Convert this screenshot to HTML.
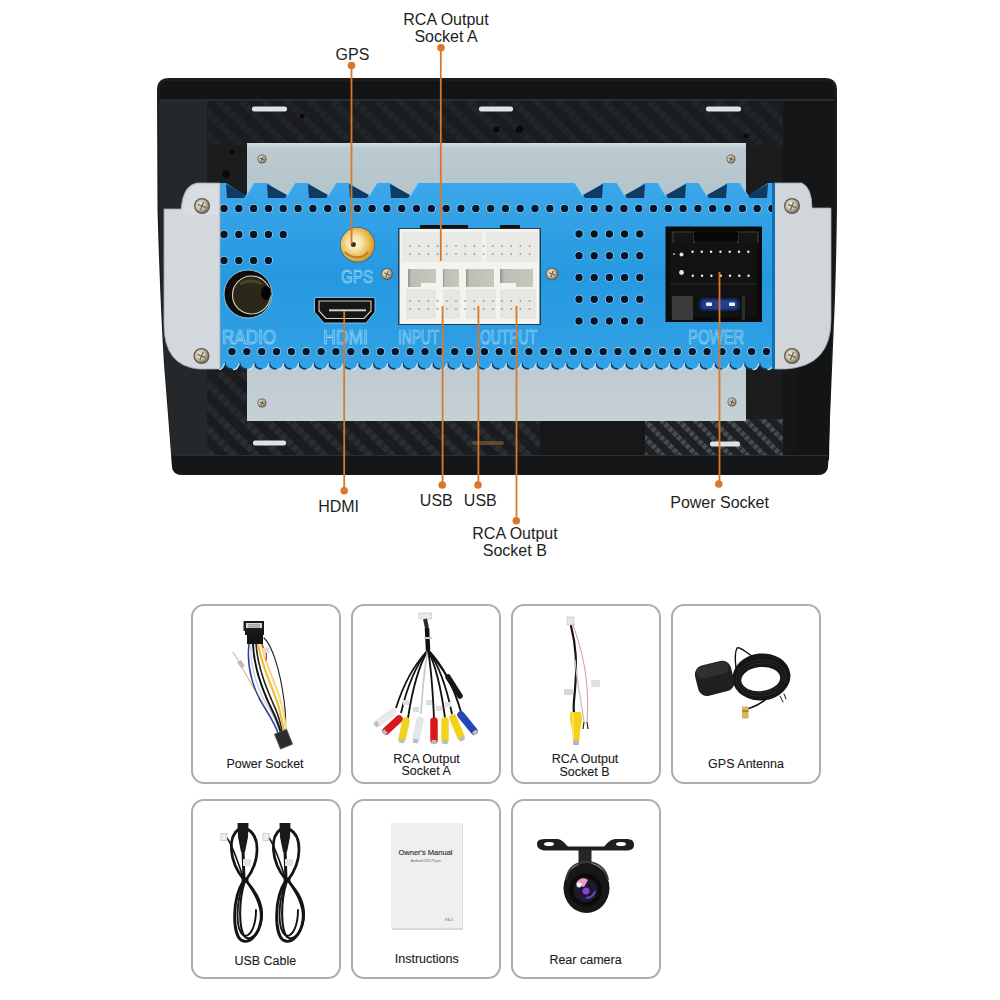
<!DOCTYPE html>
<html><head><meta charset="utf-8"><style>
html,body{margin:0;padding:0;background:#fff;width:1000px;height:1000px;overflow:hidden;position:relative}
svg{position:absolute;left:0;top:0}
.card{position:absolute;box-sizing:border-box;border:2px solid #adadad;border-radius:13px;background:#fff}
</style></head><body>
<svg width="1000" height="1000" viewBox="0 0 1000 1000" style="z-index:1">
<defs>
<pattern id="carbon" width="16" height="16" patternUnits="userSpaceOnUse" patternTransform="rotate(-45)">
<rect width="16" height="16" fill="#1a1d1f"/><rect width="7" height="16" fill="#303437"/><rect x="0" y="0" width="7" height="3" fill="#25282b"/><rect x="0" y="8" width="7" height="3" fill="#25282b"/>
</pattern>
<pattern id="carbon2" width="12" height="12" patternUnits="userSpaceOnUse" patternTransform="rotate(-45)">
<rect width="12" height="12" fill="#1e2123"/><rect width="5" height="12" fill="#4e5255"/><rect x="0" y="0" width="5" height="2" fill="#2e3134"/><rect x="0" y="6" width="5" height="2" fill="#2e3134"/>
</pattern>
<linearGradient id="plate" x1="0" y1="0" x2="0" y2="1"><stop offset="0" stop-color="#d3dee2"/><stop offset="0.08" stop-color="#bccbd1"/><stop offset="1" stop-color="#b3c3ca"/></linearGradient>
<linearGradient id="plate2" x1="0" y1="0" x2="0" y2="1"><stop offset="0" stop-color="#bac8ce"/><stop offset="1" stop-color="#c6d1d6"/></linearGradient>
<linearGradient id="brk" x1="0" y1="0" x2="1" y2="0"><stop offset="0" stop-color="#b9c2c6"/><stop offset="0.15" stop-color="#d9dfe2"/><stop offset="1" stop-color="#cdd4d8"/></linearGradient>
<linearGradient id="blue" x1="0" y1="0" x2="0" y2="1"><stop offset="0" stop-color="#3ca6ea"/><stop offset="0.5" stop-color="#2599e0"/><stop offset="1" stop-color="#33a1e6"/></linearGradient>
<radialGradient id="gold" cx="0.42" cy="0.45" r="0.62"><stop offset="0" stop-color="#fff8e6"/><stop offset="0.35" stop-color="#f6e2a8"/><stop offset="0.7" stop-color="#e8b848"/><stop offset="1" stop-color="#c88a22"/></radialGradient>
<radialGradient id="screw" cx="0.4" cy="0.4" r="0.6"><stop offset="0" stop-color="#f4f0e4"/><stop offset="0.6" stop-color="#c9bfa8"/><stop offset="1" stop-color="#7d7668"/></radialGradient>
</defs>
<path d="M157,90 Q157,78 169,78 L825,78 Q837,78 837,90 L837,210 Q836,280 834,322 L828,465 Q827.5,475 818,475 L182,475 Q172.5,475 172,466 L164,364 Q160,300 157.5,210 Z" fill="#1a1c1e"/>
<rect x="208" y="100" width="575" height="45" fill="url(#carbon)" opacity="0.4"/>
<rect x="190" y="419" width="350" height="38" fill="url(#carbon)" opacity="0.75"/>
<rect x="190" y="372" width="57" height="47" fill="url(#carbon)" opacity="0.6"/>
<rect x="645" y="419" width="152" height="38" fill="url(#carbon2)" opacity="0.9"/>
<path d="M160,99 L160,90 Q160,81 170,81 L824,81 Q834,81 834,90 L834,99 Z" fill="#121416"/>
<rect x="160" y="99" width="674" height="2" fill="#2a2d30"/>
<path d="M159,101 L207,101 L207,456 L171.5,456 L165,364 Q161,300 159.5,210 Z" fill="#25282a"/>
<path d="M783,101 L835,101 L835,210 Q834,280 832,322 L827.5,456 L783,456 Z" fill="#141618"/>
<rect x="540" y="419" width="105" height="48" fill="#151719"/>
<path d="M797,300 L832,300 L829,460 L797,460 Z" fill="#121416"/>
<rect x="472" y="441" width="32" height="4" rx="2" fill="#7a5a32" opacity="0.7"/>
<path d="M171.5,456 L828.5,456 L828,466 Q827.5,474.5 818,474.5 L182,474.5 Q172.5,474.5 172,466 Z" fill="#141618"/>
<rect x="175" y="455" width="652" height="1.2" fill="#2c2f32"/>
<rect x="252" y="106.5" width="35" height="5" rx="2" fill="#dfe3e5"/>
<rect x="479" y="106.5" width="34" height="5" rx="2" fill="#dfe3e5"/>
<rect x="706" y="106.5" width="35" height="5" rx="2" fill="#dfe3e5"/>
<rect x="253" y="440.5" width="33" height="5" rx="2" fill="#dfe3e5"/>
<rect x="710" y="441.5" width="30" height="5" rx="2" fill="#dfe3e5"/>
<circle cx="302" cy="116" r="2.5" fill="#0a0a0a"/>
<circle cx="232" cy="152" r="2.5" fill="#0a0a0a"/>
<circle cx="496.5" cy="129.5" r="3" fill="#0a0a0a"/>
<circle cx="519.6" cy="129.5" r="3.8" fill="#0a0a0a"/>
<circle cx="746" cy="136" r="2.5" fill="#0a0a0a"/>
<circle cx="226" cy="174" r="4" fill="#0a0a0a"/>
<rect x="247" y="143" width="499" height="60" fill="url(#plate)"/>
<rect x="247" y="350" width="499" height="71" fill="url(#plate2)"/>
<circle cx="262" cy="159" r="4.5" fill="#5e5a52"/>
<circle cx="262" cy="159" r="3.8" fill="url(#screw)"/>
<path d="M259.8,158.1 L264.2,159.9 M261.1,161.2 L262.9,156.8" stroke="#6e6350" stroke-width="1.2"/>
<circle cx="731" cy="159" r="4.5" fill="#5e5a52"/>
<circle cx="731" cy="159" r="3.8" fill="url(#screw)"/>
<path d="M728.8,158.1 L733.2,159.9 M730.1,161.2 L731.9,156.8" stroke="#6e6350" stroke-width="1.2"/>
<circle cx="262" cy="403" r="4.5" fill="#5e5a52"/>
<circle cx="262" cy="403" r="3.8" fill="url(#screw)"/>
<path d="M259.8,402.1 L264.2,403.9 M261.1,405.2 L262.9,400.8" stroke="#6e6350" stroke-width="1.2"/>
<circle cx="732" cy="402" r="4.5" fill="#5e5a52"/>
<circle cx="732" cy="402" r="3.8" fill="url(#screw)"/>
<path d="M729.8,401.1 L734.2,402.9 M731.1,404.2 L732.9,399.8" stroke="#6e6350" stroke-width="1.2"/>
<clipPath id="pclip"><rect x="219" y="170" width="555" height="210"/></clipPath>
<g clip-path="url(#pclip)"><path d="M219,183 L226,183 L246,196 L254,183 L267,183 L287,196 L295,183 L308,183 L328,196 L336,183 L349,183 L369,196 L377,183 L390,183 L410,196 L418,183 L575,183 L583,196 L603,183 L617,183 L625,196 L645,183 L658,183 L666,196 L686,183 L699,183 L707,196 L727,183 L740,183 L748,196 L768,183 L774,183 L774,362 L788.8,362.5 C787.8,367 786.3,369 781.3,369 C776.3,369 774.9,367 773.9,362.5 L773.9,362.5 C772.9,367 771.5,369 766.5,369 C761.5,369 760.1,367 759.1,362.5 L759.1,362.5 C758.1,367 756.6,369 751.6,369 C746.6,369 745.2,367 744.2,362.5 L744.2,362.5 C743.2,367 741.8,369 736.8,369 C731.8,369 730.4,367 729.4,362.5 L729.4,362.5 C728.4,367 727,369 722,369 C717,369 715.5,367 714.5,362.5 L714.5,362.5 C713.5,367 712.1,369 707.1,369 C702.1,369 700.7,367 699.7,362.5 L699.7,362.5 C698.7,367 697.3,369 692.3,369 C687.3,369 685.8,367 684.8,362.5 L684.8,362.5 C683.8,367 682.4,369 677.4,369 C672.4,369 671,367 670,362.5 L670,362.5 C669,367 667.6,369 662.6,369 C657.6,369 656.1,367 655.1,362.5 L655.1,362.5 C654.1,367 652.7,369 647.7,369 C642.7,369 641.3,367 640.3,362.5 L640.3,362.5 C639.3,367 637.9,369 632.9,369 C627.9,369 626.4,367 625.4,362.5 L625.4,362.5 C624.4,367 623,369 618,369 C613,369 611.6,367 610.6,362.5 L610.6,362.5 C609.6,367 608.2,369 603.2,369 C598.2,369 596.8,367 595.8,362.5 L595.8,362.5 C594.8,367 593.3,369 588.3,369 C583.3,369 581.9,367 580.9,362.5 L580.9,362.5 C579.9,367 578.5,369 573.5,369 C568.5,369 567.1,367 566.1,362.5 L566.1,362.5 C565.1,367 563.6,369 558.6,369 C553.6,369 552.2,367 551.2,362.5 L551.2,362.5 C550.2,367 548.8,369 543.8,369 C538.8,369 537.4,367 536.4,362.5 L536.4,362.5 C535.4,367 533.9,369 528.9,369 C523.9,369 522.5,367 521.5,362.5 L521.5,362.5 C520.5,367 519.1,369 514.1,369 C509.1,369 507.7,367 506.7,362.5 L506.7,362.5 C505.7,367 504.2,369 499.2,369 C494.2,369 492.8,367 491.8,362.5 L491.8,362.5 C490.8,367 489.4,369 484.4,369 C479.4,369 478,367 477,362.5 L477,362.5 C476,367 474.6,369 469.6,369 C464.6,369 463.1,367 462.1,362.5 L462.1,362.5 C461.1,367 459.7,369 454.7,369 C449.7,369 448.3,367 447.3,362.5 L447.3,362.5 C446.3,367 444.9,369 439.9,369 C434.9,369 433.4,367 432.4,362.5 L432.4,362.5 C431.4,367 430,369 425,369 C420,369 418.6,367 417.6,362.5 L417.6,362.5 C416.6,367 415.2,369 410.2,369 C405.2,369 403.7,367 402.7,362.5 L402.7,362.5 C401.7,367 400.3,369 395.3,369 C390.3,369 388.9,367 387.9,362.5 L387.9,362.5 C386.9,367 385.5,369 380.5,369 C375.5,369 374,367 373,362.5 L373,362.5 C372,367 370.6,369 365.6,369 C360.6,369 359.2,367 358.2,362.5 L358.2,362.5 C357.2,367 355.8,369 350.8,369 C345.8,369 344.4,367 343.4,362.5 L343.4,362.5 C342.4,367 340.9,369 335.9,369 C330.9,369 329.5,367 328.5,362.5 L328.5,362.5 C327.5,367 326.1,369 321.1,369 C316.1,369 314.7,367 313.7,362.5 L313.7,362.5 C312.7,367 311.2,369 306.2,369 C301.2,369 299.8,367 298.8,362.5 L298.8,362.5 C297.8,367 296.4,369 291.4,369 C286.4,369 285,367 284,362.5 L284,362.5 C283,367 281.5,369 276.5,369 C271.5,369 270.1,367 269.1,362.5 L269.1,362.5 C268.1,367 266.7,369 261.7,369 C256.7,369 255.3,367 254.3,362.5 L254.3,362.5 C253.3,367 251.8,369 246.8,369 C241.8,369 240.4,367 239.4,362.5 L239.4,362.5 C238.4,367 237,369 232,369 C227,369 225.6,367 224.6,362.5 L224.6,362.5 C223.6,367 222.2,369 217.2,369 C212.2,369 210.7,367 209.7,362.5 L219,362 Z" fill="url(#blue)"/>
<path d="M773.9,362.5 C774.9,367 776.3,369 781.3,369" fill="none" stroke="#0b3a66" stroke-width="1.6"/>
<path d="M782.3,369.6 C786.3,369.6 787.8,367.5 788.8,363" fill="none" stroke="#b9e6fb" stroke-width="1.2"/>
<path d="M759.1,362.5 C760.1,367 761.5,369 766.5,369" fill="none" stroke="#0b3a66" stroke-width="1.6"/>
<path d="M767.5,369.6 C771.5,369.6 772.9,367.5 773.9,363" fill="none" stroke="#b9e6fb" stroke-width="1.2"/>
<path d="M744.2,362.5 C745.2,367 746.6,369 751.6,369" fill="none" stroke="#0b3a66" stroke-width="1.6"/>
<path d="M752.6,369.6 C756.6,369.6 758.1,367.5 759.1,363" fill="none" stroke="#b9e6fb" stroke-width="1.2"/>
<path d="M729.4,362.5 C730.4,367 731.8,369 736.8,369" fill="none" stroke="#0b3a66" stroke-width="1.6"/>
<path d="M737.8,369.6 C741.8,369.6 743.2,367.5 744.2,363" fill="none" stroke="#b9e6fb" stroke-width="1.2"/>
<path d="M714.5,362.5 C715.5,367 717,369 722,369" fill="none" stroke="#0b3a66" stroke-width="1.6"/>
<path d="M723,369.6 C727,369.6 728.4,367.5 729.4,363" fill="none" stroke="#b9e6fb" stroke-width="1.2"/>
<path d="M699.7,362.5 C700.7,367 702.1,369 707.1,369" fill="none" stroke="#0b3a66" stroke-width="1.6"/>
<path d="M708.1,369.6 C712.1,369.6 713.5,367.5 714.5,363" fill="none" stroke="#b9e6fb" stroke-width="1.2"/>
<path d="M684.8,362.5 C685.8,367 687.3,369 692.3,369" fill="none" stroke="#0b3a66" stroke-width="1.6"/>
<path d="M693.3,369.6 C697.3,369.6 698.7,367.5 699.7,363" fill="none" stroke="#b9e6fb" stroke-width="1.2"/>
<path d="M670,362.5 C671,367 672.4,369 677.4,369" fill="none" stroke="#0b3a66" stroke-width="1.6"/>
<path d="M678.4,369.6 C682.4,369.6 683.8,367.5 684.8,363" fill="none" stroke="#b9e6fb" stroke-width="1.2"/>
<path d="M655.1,362.5 C656.1,367 657.6,369 662.6,369" fill="none" stroke="#0b3a66" stroke-width="1.6"/>
<path d="M663.6,369.6 C667.6,369.6 669,367.5 670,363" fill="none" stroke="#b9e6fb" stroke-width="1.2"/>
<path d="M640.3,362.5 C641.3,367 642.7,369 647.7,369" fill="none" stroke="#0b3a66" stroke-width="1.6"/>
<path d="M648.7,369.6 C652.7,369.6 654.1,367.5 655.1,363" fill="none" stroke="#b9e6fb" stroke-width="1.2"/>
<path d="M625.4,362.5 C626.4,367 627.9,369 632.9,369" fill="none" stroke="#0b3a66" stroke-width="1.6"/>
<path d="M633.9,369.6 C637.9,369.6 639.3,367.5 640.3,363" fill="none" stroke="#b9e6fb" stroke-width="1.2"/>
<path d="M610.6,362.5 C611.6,367 613,369 618,369" fill="none" stroke="#0b3a66" stroke-width="1.6"/>
<path d="M619,369.6 C623,369.6 624.4,367.5 625.4,363" fill="none" stroke="#b9e6fb" stroke-width="1.2"/>
<path d="M595.8,362.5 C596.8,367 598.2,369 603.2,369" fill="none" stroke="#0b3a66" stroke-width="1.6"/>
<path d="M604.2,369.6 C608.2,369.6 609.6,367.5 610.6,363" fill="none" stroke="#b9e6fb" stroke-width="1.2"/>
<path d="M580.9,362.5 C581.9,367 583.3,369 588.3,369" fill="none" stroke="#0b3a66" stroke-width="1.6"/>
<path d="M589.3,369.6 C593.3,369.6 594.8,367.5 595.8,363" fill="none" stroke="#b9e6fb" stroke-width="1.2"/>
<path d="M566.1,362.5 C567.1,367 568.5,369 573.5,369" fill="none" stroke="#0b3a66" stroke-width="1.6"/>
<path d="M574.5,369.6 C578.5,369.6 579.9,367.5 580.9,363" fill="none" stroke="#b9e6fb" stroke-width="1.2"/>
<path d="M551.2,362.5 C552.2,367 553.6,369 558.6,369" fill="none" stroke="#0b3a66" stroke-width="1.6"/>
<path d="M559.6,369.6 C563.6,369.6 565.1,367.5 566.1,363" fill="none" stroke="#b9e6fb" stroke-width="1.2"/>
<path d="M536.4,362.5 C537.4,367 538.8,369 543.8,369" fill="none" stroke="#0b3a66" stroke-width="1.6"/>
<path d="M544.8,369.6 C548.8,369.6 550.2,367.5 551.2,363" fill="none" stroke="#b9e6fb" stroke-width="1.2"/>
<path d="M521.5,362.5 C522.5,367 523.9,369 528.9,369" fill="none" stroke="#0b3a66" stroke-width="1.6"/>
<path d="M529.9,369.6 C533.9,369.6 535.4,367.5 536.4,363" fill="none" stroke="#b9e6fb" stroke-width="1.2"/>
<path d="M506.7,362.5 C507.7,367 509.1,369 514.1,369" fill="none" stroke="#0b3a66" stroke-width="1.6"/>
<path d="M515.1,369.6 C519.1,369.6 520.5,367.5 521.5,363" fill="none" stroke="#b9e6fb" stroke-width="1.2"/>
<path d="M491.8,362.5 C492.8,367 494.2,369 499.2,369" fill="none" stroke="#0b3a66" stroke-width="1.6"/>
<path d="M500.2,369.6 C504.2,369.6 505.7,367.5 506.7,363" fill="none" stroke="#b9e6fb" stroke-width="1.2"/>
<path d="M477,362.5 C478,367 479.4,369 484.4,369" fill="none" stroke="#0b3a66" stroke-width="1.6"/>
<path d="M485.4,369.6 C489.4,369.6 490.8,367.5 491.8,363" fill="none" stroke="#b9e6fb" stroke-width="1.2"/>
<path d="M462.1,362.5 C463.1,367 464.6,369 469.6,369" fill="none" stroke="#0b3a66" stroke-width="1.6"/>
<path d="M470.6,369.6 C474.6,369.6 476,367.5 477,363" fill="none" stroke="#b9e6fb" stroke-width="1.2"/>
<path d="M447.3,362.5 C448.3,367 449.7,369 454.7,369" fill="none" stroke="#0b3a66" stroke-width="1.6"/>
<path d="M455.7,369.6 C459.7,369.6 461.1,367.5 462.1,363" fill="none" stroke="#b9e6fb" stroke-width="1.2"/>
<path d="M432.4,362.5 C433.4,367 434.9,369 439.9,369" fill="none" stroke="#0b3a66" stroke-width="1.6"/>
<path d="M440.9,369.6 C444.9,369.6 446.3,367.5 447.3,363" fill="none" stroke="#b9e6fb" stroke-width="1.2"/>
<path d="M417.6,362.5 C418.6,367 420,369 425,369" fill="none" stroke="#0b3a66" stroke-width="1.6"/>
<path d="M426,369.6 C430,369.6 431.4,367.5 432.4,363" fill="none" stroke="#b9e6fb" stroke-width="1.2"/>
<path d="M402.7,362.5 C403.7,367 405.2,369 410.2,369" fill="none" stroke="#0b3a66" stroke-width="1.6"/>
<path d="M411.2,369.6 C415.2,369.6 416.6,367.5 417.6,363" fill="none" stroke="#b9e6fb" stroke-width="1.2"/>
<path d="M387.9,362.5 C388.9,367 390.3,369 395.3,369" fill="none" stroke="#0b3a66" stroke-width="1.6"/>
<path d="M396.3,369.6 C400.3,369.6 401.7,367.5 402.7,363" fill="none" stroke="#b9e6fb" stroke-width="1.2"/>
<path d="M373,362.5 C374,367 375.5,369 380.5,369" fill="none" stroke="#0b3a66" stroke-width="1.6"/>
<path d="M381.5,369.6 C385.5,369.6 386.9,367.5 387.9,363" fill="none" stroke="#b9e6fb" stroke-width="1.2"/>
<path d="M358.2,362.5 C359.2,367 360.6,369 365.6,369" fill="none" stroke="#0b3a66" stroke-width="1.6"/>
<path d="M366.6,369.6 C370.6,369.6 372,367.5 373,363" fill="none" stroke="#b9e6fb" stroke-width="1.2"/>
<path d="M343.4,362.5 C344.4,367 345.8,369 350.8,369" fill="none" stroke="#0b3a66" stroke-width="1.6"/>
<path d="M351.8,369.6 C355.8,369.6 357.2,367.5 358.2,363" fill="none" stroke="#b9e6fb" stroke-width="1.2"/>
<path d="M328.5,362.5 C329.5,367 330.9,369 335.9,369" fill="none" stroke="#0b3a66" stroke-width="1.6"/>
<path d="M336.9,369.6 C340.9,369.6 342.4,367.5 343.4,363" fill="none" stroke="#b9e6fb" stroke-width="1.2"/>
<path d="M313.7,362.5 C314.7,367 316.1,369 321.1,369" fill="none" stroke="#0b3a66" stroke-width="1.6"/>
<path d="M322.1,369.6 C326.1,369.6 327.5,367.5 328.5,363" fill="none" stroke="#b9e6fb" stroke-width="1.2"/>
<path d="M298.8,362.5 C299.8,367 301.2,369 306.2,369" fill="none" stroke="#0b3a66" stroke-width="1.6"/>
<path d="M307.2,369.6 C311.2,369.6 312.7,367.5 313.7,363" fill="none" stroke="#b9e6fb" stroke-width="1.2"/>
<path d="M284,362.5 C285,367 286.4,369 291.4,369" fill="none" stroke="#0b3a66" stroke-width="1.6"/>
<path d="M292.4,369.6 C296.4,369.6 297.8,367.5 298.8,363" fill="none" stroke="#b9e6fb" stroke-width="1.2"/>
<path d="M269.1,362.5 C270.1,367 271.5,369 276.5,369" fill="none" stroke="#0b3a66" stroke-width="1.6"/>
<path d="M277.5,369.6 C281.5,369.6 283,367.5 284,363" fill="none" stroke="#b9e6fb" stroke-width="1.2"/>
<path d="M254.3,362.5 C255.3,367 256.7,369 261.7,369" fill="none" stroke="#0b3a66" stroke-width="1.6"/>
<path d="M262.7,369.6 C266.7,369.6 268.1,367.5 269.1,363" fill="none" stroke="#b9e6fb" stroke-width="1.2"/>
<path d="M239.4,362.5 C240.4,367 241.8,369 246.8,369" fill="none" stroke="#0b3a66" stroke-width="1.6"/>
<path d="M247.8,369.6 C251.8,369.6 253.3,367.5 254.3,363" fill="none" stroke="#b9e6fb" stroke-width="1.2"/>
<path d="M224.6,362.5 C225.6,367 227,369 232,369" fill="none" stroke="#0b3a66" stroke-width="1.6"/>
<path d="M233,369.6 C237,369.6 238.4,367.5 239.4,363" fill="none" stroke="#b9e6fb" stroke-width="1.2"/>
<path d="M209.7,362.5 C210.7,367 212.2,369 217.2,369" fill="none" stroke="#0b3a66" stroke-width="1.6"/>
<path d="M218.2,369.6 C222.2,369.6 223.6,367.5 224.6,363" fill="none" stroke="#b9e6fb" stroke-width="1.2"/>
</g>
<path d="M226,184 L246,195 L244,198 L227,198 Z" fill="#0f3a63"/>
<path d="M246,196 L254,183" stroke="#7fd0ff" stroke-width="1" fill="none"/>
<path d="M267,184 L287,195 L285,198 L268,198 Z" fill="#0f3a63"/>
<path d="M287,196 L295,183" stroke="#7fd0ff" stroke-width="1" fill="none"/>
<path d="M308,184 L328,195 L326,198 L309,198 Z" fill="#0f3a63"/>
<path d="M328,196 L336,183" stroke="#7fd0ff" stroke-width="1" fill="none"/>
<path d="M349,184 L369,195 L367,198 L350,198 Z" fill="#0f3a63"/>
<path d="M369,196 L377,183" stroke="#7fd0ff" stroke-width="1" fill="none"/>
<path d="M390,184 L410,195 L408,198 L391,198 Z" fill="#0f3a63"/>
<path d="M410,196 L418,183" stroke="#7fd0ff" stroke-width="1" fill="none"/>
<path d="M603,184 L583,195 L585,198 L602,198 Z" fill="#0f3a63"/>
<path d="M583,196 L575,183" stroke="#7fd0ff" stroke-width="1" fill="none"/>
<path d="M645,184 L625,195 L627,198 L644,198 Z" fill="#0f3a63"/>
<path d="M625,196 L617,183" stroke="#7fd0ff" stroke-width="1" fill="none"/>
<path d="M686,184 L666,195 L668,198 L685,198 Z" fill="#0f3a63"/>
<path d="M666,196 L658,183" stroke="#7fd0ff" stroke-width="1" fill="none"/>
<path d="M727,184 L707,195 L709,198 L726,198 Z" fill="#0f3a63"/>
<path d="M707,196 L699,183" stroke="#7fd0ff" stroke-width="1" fill="none"/>
<path d="M768,184 L748,195 L750,198 L767,198 Z" fill="#0f3a63"/>
<path d="M748,196 L740,183" stroke="#7fd0ff" stroke-width="1" fill="none"/>
<circle cx="224" cy="208.5" r="4.5" fill="#8fd3f7"/><circle cx="224" cy="208.5" r="3.7" fill="#061525"/>
<circle cx="238.8" cy="208.5" r="4.5" fill="#8fd3f7"/><circle cx="238.8" cy="208.5" r="3.7" fill="#061525"/>
<circle cx="253.6" cy="208.5" r="4.5" fill="#8fd3f7"/><circle cx="253.6" cy="208.5" r="3.7" fill="#061525"/>
<circle cx="268.4" cy="208.5" r="4.5" fill="#8fd3f7"/><circle cx="268.4" cy="208.5" r="3.7" fill="#061525"/>
<circle cx="283.2" cy="208.5" r="4.5" fill="#8fd3f7"/><circle cx="283.2" cy="208.5" r="3.7" fill="#061525"/>
<circle cx="298.1" cy="208.5" r="4.5" fill="#8fd3f7"/><circle cx="298.1" cy="208.5" r="3.7" fill="#061525"/>
<circle cx="312.9" cy="208.5" r="4.5" fill="#8fd3f7"/><circle cx="312.9" cy="208.5" r="3.7" fill="#061525"/>
<circle cx="327.7" cy="208.5" r="4.5" fill="#8fd3f7"/><circle cx="327.7" cy="208.5" r="3.7" fill="#061525"/>
<circle cx="342.5" cy="208.5" r="4.5" fill="#8fd3f7"/><circle cx="342.5" cy="208.5" r="3.7" fill="#061525"/>
<circle cx="357.3" cy="208.5" r="4.5" fill="#8fd3f7"/><circle cx="357.3" cy="208.5" r="3.7" fill="#061525"/>
<circle cx="372.1" cy="208.5" r="4.5" fill="#8fd3f7"/><circle cx="372.1" cy="208.5" r="3.7" fill="#061525"/>
<circle cx="386.9" cy="208.5" r="4.5" fill="#8fd3f7"/><circle cx="386.9" cy="208.5" r="3.7" fill="#061525"/>
<circle cx="401.7" cy="208.5" r="4.5" fill="#8fd3f7"/><circle cx="401.7" cy="208.5" r="3.7" fill="#061525"/>
<circle cx="416.5" cy="208.5" r="4.5" fill="#8fd3f7"/><circle cx="416.5" cy="208.5" r="3.7" fill="#061525"/>
<circle cx="431.3" cy="208.5" r="4.5" fill="#8fd3f7"/><circle cx="431.3" cy="208.5" r="3.7" fill="#061525"/>
<circle cx="446.1" cy="208.5" r="4.5" fill="#8fd3f7"/><circle cx="446.1" cy="208.5" r="3.7" fill="#061525"/>
<circle cx="461" cy="208.5" r="4.5" fill="#8fd3f7"/><circle cx="461" cy="208.5" r="3.7" fill="#061525"/>
<circle cx="475.8" cy="208.5" r="4.5" fill="#8fd3f7"/><circle cx="475.8" cy="208.5" r="3.7" fill="#061525"/>
<circle cx="490.6" cy="208.5" r="4.5" fill="#8fd3f7"/><circle cx="490.6" cy="208.5" r="3.7" fill="#061525"/>
<circle cx="505.4" cy="208.5" r="4.5" fill="#8fd3f7"/><circle cx="505.4" cy="208.5" r="3.7" fill="#061525"/>
<circle cx="520.2" cy="208.5" r="4.5" fill="#8fd3f7"/><circle cx="520.2" cy="208.5" r="3.7" fill="#061525"/>
<circle cx="535" cy="208.5" r="4.5" fill="#8fd3f7"/><circle cx="535" cy="208.5" r="3.7" fill="#061525"/>
<circle cx="549.8" cy="208.5" r="4.5" fill="#8fd3f7"/><circle cx="549.8" cy="208.5" r="3.7" fill="#061525"/>
<circle cx="564.6" cy="208.5" r="4.5" fill="#8fd3f7"/><circle cx="564.6" cy="208.5" r="3.7" fill="#061525"/>
<circle cx="579.4" cy="208.5" r="4.5" fill="#8fd3f7"/><circle cx="579.4" cy="208.5" r="3.7" fill="#061525"/>
<circle cx="594.2" cy="208.5" r="4.5" fill="#8fd3f7"/><circle cx="594.2" cy="208.5" r="3.7" fill="#061525"/>
<circle cx="609.1" cy="208.5" r="4.5" fill="#8fd3f7"/><circle cx="609.1" cy="208.5" r="3.7" fill="#061525"/>
<circle cx="623.9" cy="208.5" r="4.5" fill="#8fd3f7"/><circle cx="623.9" cy="208.5" r="3.7" fill="#061525"/>
<circle cx="638.7" cy="208.5" r="4.5" fill="#8fd3f7"/><circle cx="638.7" cy="208.5" r="3.7" fill="#061525"/>
<circle cx="653.5" cy="208.5" r="4.5" fill="#8fd3f7"/><circle cx="653.5" cy="208.5" r="3.7" fill="#061525"/>
<circle cx="668.3" cy="208.5" r="4.5" fill="#8fd3f7"/><circle cx="668.3" cy="208.5" r="3.7" fill="#061525"/>
<circle cx="683.1" cy="208.5" r="4.5" fill="#8fd3f7"/><circle cx="683.1" cy="208.5" r="3.7" fill="#061525"/>
<circle cx="697.9" cy="208.5" r="4.5" fill="#8fd3f7"/><circle cx="697.9" cy="208.5" r="3.7" fill="#061525"/>
<circle cx="712.7" cy="208.5" r="4.5" fill="#8fd3f7"/><circle cx="712.7" cy="208.5" r="3.7" fill="#061525"/>
<circle cx="727.5" cy="208.5" r="4.5" fill="#8fd3f7"/><circle cx="727.5" cy="208.5" r="3.7" fill="#061525"/>
<circle cx="742.4" cy="208.5" r="4.5" fill="#8fd3f7"/><circle cx="742.4" cy="208.5" r="3.7" fill="#061525"/>
<circle cx="757.2" cy="208.5" r="4.5" fill="#8fd3f7"/><circle cx="757.2" cy="208.5" r="3.7" fill="#061525"/>
<circle cx="772" cy="208.5" r="4.5" fill="#8fd3f7"/><circle cx="772" cy="208.5" r="3.7" fill="#061525"/>
<circle cx="232" cy="351.6" r="4.5" fill="#8fd3f7"/><circle cx="232" cy="351.6" r="3.7" fill="#061525"/>
<circle cx="246.8" cy="351.6" r="4.5" fill="#8fd3f7"/><circle cx="246.8" cy="351.6" r="3.7" fill="#061525"/>
<circle cx="261.7" cy="351.6" r="4.5" fill="#8fd3f7"/><circle cx="261.7" cy="351.6" r="3.7" fill="#061525"/>
<circle cx="276.5" cy="351.6" r="4.5" fill="#8fd3f7"/><circle cx="276.5" cy="351.6" r="3.7" fill="#061525"/>
<circle cx="291.4" cy="351.6" r="4.5" fill="#8fd3f7"/><circle cx="291.4" cy="351.6" r="3.7" fill="#061525"/>
<circle cx="306.2" cy="351.6" r="4.5" fill="#8fd3f7"/><circle cx="306.2" cy="351.6" r="3.7" fill="#061525"/>
<circle cx="321.1" cy="351.6" r="4.5" fill="#8fd3f7"/><circle cx="321.1" cy="351.6" r="3.7" fill="#061525"/>
<circle cx="335.9" cy="351.6" r="4.5" fill="#8fd3f7"/><circle cx="335.9" cy="351.6" r="3.7" fill="#061525"/>
<circle cx="350.8" cy="351.6" r="4.5" fill="#8fd3f7"/><circle cx="350.8" cy="351.6" r="3.7" fill="#061525"/>
<circle cx="365.6" cy="351.6" r="4.5" fill="#8fd3f7"/><circle cx="365.6" cy="351.6" r="3.7" fill="#061525"/>
<circle cx="380.5" cy="351.6" r="4.5" fill="#8fd3f7"/><circle cx="380.5" cy="351.6" r="3.7" fill="#061525"/>
<circle cx="395.3" cy="351.6" r="4.5" fill="#8fd3f7"/><circle cx="395.3" cy="351.6" r="3.7" fill="#061525"/>
<circle cx="410.2" cy="351.6" r="4.5" fill="#8fd3f7"/><circle cx="410.2" cy="351.6" r="3.7" fill="#061525"/>
<circle cx="425" cy="351.6" r="4.5" fill="#8fd3f7"/><circle cx="425" cy="351.6" r="3.7" fill="#061525"/>
<circle cx="439.9" cy="351.6" r="4.5" fill="#8fd3f7"/><circle cx="439.9" cy="351.6" r="3.7" fill="#061525"/>
<circle cx="454.7" cy="351.6" r="4.5" fill="#8fd3f7"/><circle cx="454.7" cy="351.6" r="3.7" fill="#061525"/>
<circle cx="469.6" cy="351.6" r="4.5" fill="#8fd3f7"/><circle cx="469.6" cy="351.6" r="3.7" fill="#061525"/>
<circle cx="484.4" cy="351.6" r="4.5" fill="#8fd3f7"/><circle cx="484.4" cy="351.6" r="3.7" fill="#061525"/>
<circle cx="499.2" cy="351.6" r="4.5" fill="#8fd3f7"/><circle cx="499.2" cy="351.6" r="3.7" fill="#061525"/>
<circle cx="514.1" cy="351.6" r="4.5" fill="#8fd3f7"/><circle cx="514.1" cy="351.6" r="3.7" fill="#061525"/>
<circle cx="528.9" cy="351.6" r="4.5" fill="#8fd3f7"/><circle cx="528.9" cy="351.6" r="3.7" fill="#061525"/>
<circle cx="543.8" cy="351.6" r="4.5" fill="#8fd3f7"/><circle cx="543.8" cy="351.6" r="3.7" fill="#061525"/>
<circle cx="558.6" cy="351.6" r="4.5" fill="#8fd3f7"/><circle cx="558.6" cy="351.6" r="3.7" fill="#061525"/>
<circle cx="573.5" cy="351.6" r="4.5" fill="#8fd3f7"/><circle cx="573.5" cy="351.6" r="3.7" fill="#061525"/>
<circle cx="588.3" cy="351.6" r="4.5" fill="#8fd3f7"/><circle cx="588.3" cy="351.6" r="3.7" fill="#061525"/>
<circle cx="603.2" cy="351.6" r="4.5" fill="#8fd3f7"/><circle cx="603.2" cy="351.6" r="3.7" fill="#061525"/>
<circle cx="618" cy="351.6" r="4.5" fill="#8fd3f7"/><circle cx="618" cy="351.6" r="3.7" fill="#061525"/>
<circle cx="632.9" cy="351.6" r="4.5" fill="#8fd3f7"/><circle cx="632.9" cy="351.6" r="3.7" fill="#061525"/>
<circle cx="647.7" cy="351.6" r="4.5" fill="#8fd3f7"/><circle cx="647.7" cy="351.6" r="3.7" fill="#061525"/>
<circle cx="662.6" cy="351.6" r="4.5" fill="#8fd3f7"/><circle cx="662.6" cy="351.6" r="3.7" fill="#061525"/>
<circle cx="677.4" cy="351.6" r="4.5" fill="#8fd3f7"/><circle cx="677.4" cy="351.6" r="3.7" fill="#061525"/>
<circle cx="692.3" cy="351.6" r="4.5" fill="#8fd3f7"/><circle cx="692.3" cy="351.6" r="3.7" fill="#061525"/>
<circle cx="707.1" cy="351.6" r="4.5" fill="#8fd3f7"/><circle cx="707.1" cy="351.6" r="3.7" fill="#061525"/>
<circle cx="722" cy="351.6" r="4.5" fill="#8fd3f7"/><circle cx="722" cy="351.6" r="3.7" fill="#061525"/>
<circle cx="736.8" cy="351.6" r="4.5" fill="#8fd3f7"/><circle cx="736.8" cy="351.6" r="3.7" fill="#061525"/>
<circle cx="751.6" cy="351.6" r="4.5" fill="#8fd3f7"/><circle cx="751.6" cy="351.6" r="3.7" fill="#061525"/>
<circle cx="766.5" cy="351.6" r="4.5" fill="#8fd3f7"/><circle cx="766.5" cy="351.6" r="3.7" fill="#061525"/>
<circle cx="224" cy="234.5" r="4.5" fill="#8fd3f7"/><circle cx="224" cy="234.5" r="3.7" fill="#061525"/>
<circle cx="238.8" cy="234.5" r="4.5" fill="#8fd3f7"/><circle cx="238.8" cy="234.5" r="3.7" fill="#061525"/>
<circle cx="253.6" cy="234.5" r="4.5" fill="#8fd3f7"/><circle cx="253.6" cy="234.5" r="3.7" fill="#061525"/>
<circle cx="268.4" cy="234.5" r="4.5" fill="#8fd3f7"/><circle cx="268.4" cy="234.5" r="3.7" fill="#061525"/>
<circle cx="283.2" cy="234.5" r="4.5" fill="#8fd3f7"/><circle cx="283.2" cy="234.5" r="3.7" fill="#061525"/>
<circle cx="224" cy="260.5" r="4.5" fill="#8fd3f7"/><circle cx="224" cy="260.5" r="3.7" fill="#061525"/>
<circle cx="238.8" cy="260.5" r="4.5" fill="#8fd3f7"/><circle cx="238.8" cy="260.5" r="3.7" fill="#061525"/>
<circle cx="253.6" cy="260.5" r="4.5" fill="#8fd3f7"/><circle cx="253.6" cy="260.5" r="3.7" fill="#061525"/>
<circle cx="268.4" cy="260.5" r="4.5" fill="#8fd3f7"/><circle cx="268.4" cy="260.5" r="3.7" fill="#061525"/>
<circle cx="579" cy="234" r="4.5" fill="#8fd3f7"/><circle cx="579" cy="234" r="3.7" fill="#061525"/>
<circle cx="594.2" cy="234" r="4.5" fill="#8fd3f7"/><circle cx="594.2" cy="234" r="3.7" fill="#061525"/>
<circle cx="609.4" cy="234" r="4.5" fill="#8fd3f7"/><circle cx="609.4" cy="234" r="3.7" fill="#061525"/>
<circle cx="624.6" cy="234" r="4.5" fill="#8fd3f7"/><circle cx="624.6" cy="234" r="3.7" fill="#061525"/>
<circle cx="639.8" cy="234" r="4.5" fill="#8fd3f7"/><circle cx="639.8" cy="234" r="3.7" fill="#061525"/>
<circle cx="579" cy="255.7" r="4.5" fill="#8fd3f7"/><circle cx="579" cy="255.7" r="3.7" fill="#061525"/>
<circle cx="594.2" cy="255.7" r="4.5" fill="#8fd3f7"/><circle cx="594.2" cy="255.7" r="3.7" fill="#061525"/>
<circle cx="609.4" cy="255.7" r="4.5" fill="#8fd3f7"/><circle cx="609.4" cy="255.7" r="3.7" fill="#061525"/>
<circle cx="624.6" cy="255.7" r="4.5" fill="#8fd3f7"/><circle cx="624.6" cy="255.7" r="3.7" fill="#061525"/>
<circle cx="639.8" cy="255.7" r="4.5" fill="#8fd3f7"/><circle cx="639.8" cy="255.7" r="3.7" fill="#061525"/>
<circle cx="579" cy="277.5" r="4.5" fill="#8fd3f7"/><circle cx="579" cy="277.5" r="3.7" fill="#061525"/>
<circle cx="594.2" cy="277.5" r="4.5" fill="#8fd3f7"/><circle cx="594.2" cy="277.5" r="3.7" fill="#061525"/>
<circle cx="609.4" cy="277.5" r="4.5" fill="#8fd3f7"/><circle cx="609.4" cy="277.5" r="3.7" fill="#061525"/>
<circle cx="624.6" cy="277.5" r="4.5" fill="#8fd3f7"/><circle cx="624.6" cy="277.5" r="3.7" fill="#061525"/>
<circle cx="639.8" cy="277.5" r="4.5" fill="#8fd3f7"/><circle cx="639.8" cy="277.5" r="3.7" fill="#061525"/>
<circle cx="579" cy="299.2" r="4.5" fill="#8fd3f7"/><circle cx="579" cy="299.2" r="3.7" fill="#061525"/>
<circle cx="594.2" cy="299.2" r="4.5" fill="#8fd3f7"/><circle cx="594.2" cy="299.2" r="3.7" fill="#061525"/>
<circle cx="609.4" cy="299.2" r="4.5" fill="#8fd3f7"/><circle cx="609.4" cy="299.2" r="3.7" fill="#061525"/>
<circle cx="624.6" cy="299.2" r="4.5" fill="#8fd3f7"/><circle cx="624.6" cy="299.2" r="3.7" fill="#061525"/>
<circle cx="639.8" cy="299.2" r="4.5" fill="#8fd3f7"/><circle cx="639.8" cy="299.2" r="3.7" fill="#061525"/>
<circle cx="579" cy="321" r="4.5" fill="#8fd3f7"/><circle cx="579" cy="321" r="3.7" fill="#061525"/>
<circle cx="594.2" cy="321" r="4.5" fill="#8fd3f7"/><circle cx="594.2" cy="321" r="3.7" fill="#061525"/>
<circle cx="609.4" cy="321" r="4.5" fill="#8fd3f7"/><circle cx="609.4" cy="321" r="3.7" fill="#061525"/>
<circle cx="624.6" cy="321" r="4.5" fill="#8fd3f7"/><circle cx="624.6" cy="321" r="3.7" fill="#061525"/>
<circle cx="639.8" cy="321" r="4.5" fill="#8fd3f7"/><circle cx="639.8" cy="321" r="3.7" fill="#061525"/>
<path d="M197,183 L220,183 L220,369 L199,369 Q164,366 164,325 L164,209 L181,209 Q183,185 197,183 Z" fill="#d2d8db" stroke="#9ea7ab" stroke-width="0.8"/>
<path d="M197,185 L218,185 L218,215 L183,215 Q185,188 197,185 Z" fill="#dde2e5" opacity="0.6"/>
<path d="M774,183 L802,183 Q812,188 812,208 L831,208 L831,320 Q831,366 786,369 L774,369 Z" fill="#d0d6d9" stroke="#9ea7ab" stroke-width="0.8"/>
<rect x="772" y="183" width="3" height="186" fill="#1170b5"/>
<circle cx="202" cy="206" r="8" fill="#5e5a52"/>
<circle cx="202" cy="206" r="6.8" fill="url(#screw)"/>
<path d="M198,204.4 L206,207.6 M200.4,210 L203.6,202" stroke="#6e6350" stroke-width="1.2"/>
<circle cx="201.5" cy="356" r="8" fill="#5e5a52"/>
<circle cx="201.5" cy="356" r="6.8" fill="url(#screw)"/>
<path d="M197.5,354.4 L205.5,357.6 M199.9,360 L203.1,352" stroke="#6e6350" stroke-width="1.2"/>
<circle cx="792" cy="206" r="8" fill="#5e5a52"/>
<circle cx="792" cy="206" r="6.8" fill="url(#screw)"/>
<path d="M788,204.4 L796,207.6 M790.4,210 L793.6,202" stroke="#6e6350" stroke-width="1.2"/>
<circle cx="792" cy="356" r="8" fill="#5e5a52"/>
<circle cx="792" cy="356" r="6.8" fill="url(#screw)"/>
<path d="M788,354.4 L796,357.6 M790.4,360 L793.6,352" stroke="#6e6350" stroke-width="1.2"/>
<circle cx="248" cy="294" r="24" fill="#0c0c0c" stroke="#aee0f8" stroke-width="0.8"/><circle cx="251.5" cy="295" r="19" fill="#2c2819" stroke="#dcd6c2" stroke-width="1.1"/><path d="M240,284 Q250,278 262,284" fill="none" stroke="#4a4430" stroke-width="3"/><ellipse cx="266" cy="293" rx="5" ry="7" fill="#050505"/>
<circle cx="357.6" cy="244.8" r="17.8" fill="#1a4a70" opacity="0.6"/><circle cx="357.6" cy="244.8" r="17" fill="url(#gold)"/><path d="M345,252 C350,258 362,260 368,252" fill="none" stroke="#9a6a20" stroke-width="2" opacity="0.7"/><circle cx="353.4" cy="244.5" r="2.5" fill="#4a3010"/>
<circle cx="387" cy="274" r="6" fill="#5e5a52"/>
<circle cx="387" cy="274" r="5.1" fill="url(#screw)"/>
<path d="M384,272.8 L390,275.2 M385.8,277 L388.2,271" stroke="#6e6350" stroke-width="1.2"/>
<circle cx="552" cy="274" r="6.5" fill="#5e5a52"/>
<circle cx="552" cy="274" r="5.5" fill="url(#screw)"/>
<path d="M548.8,272.7 L555.2,275.3 M550.7,277.2 L553.3,270.8" stroke="#6e6350" stroke-width="1.2"/>
<path d="M315.5,297.5 L373.5,297.5 Q375,297.5 375,299 L375,312 L366,323 L324,323 L314.5,312 L314.5,299 Q314.5,297.5 316,297.5 Z" fill="#0a0a0a" stroke="#9fd4f2" stroke-width="0.8"/>
<path d="M319,301 L371,301 L371,311 L364,318.5 L326,318.5 L319,311 Z" fill="#161616" stroke="#d9d2c4" stroke-width="1.1"/>
<rect x="329" y="309.3" width="37" height="2" fill="#cdcdcd"/>
<rect x="420" y="225" width="48" height="8" fill="#111"/><rect x="500" y="225" width="20" height="8" fill="#111"/>
<rect x="398" y="228" width="143" height="97" fill="#1a2a38" opacity="0.8"/>
<rect x="399.5" y="229" width="140" height="95" fill="#f3f3f0"/>
<rect x="402" y="232" width="80" height="30" fill="#e9e9e5"/><rect x="486" y="232" width="52" height="30" fill="#e9e9e5"/>
<defs><linearGradient id="win" x1="0" y1="0" x2="1" y2="0"><stop offset="0" stop-color="#8f9288"/><stop offset="0.12" stop-color="#bdbfb4"/><stop offset="1" stop-color="#c6c8bd"/></linearGradient></defs>
<rect x="408" y="269" width="28" height="18" fill="url(#win)"/>
<rect x="443" y="269" width="16" height="18" fill="url(#win)"/>
<rect x="466" y="269" width="28" height="18" fill="url(#win)"/>
<rect x="500" y="269" width="33" height="18" fill="url(#win)"/>
<rect x="421" y="283" width="15" height="5" fill="#f3f3f0"/><rect x="500" y="283" width="16" height="5" fill="#f3f3f0"/>
<rect x="406" y="289" width="30" height="30" fill="#e6e6e2"/><rect x="443" y="289" width="17" height="30" fill="#e6e6e2"/><rect x="466" y="289" width="30" height="30" fill="#e6e6e2"/><rect x="500" y="289" width="36" height="30" fill="#e6e6e2"/>
<circle cx="410" cy="246" r="0.9" fill="#9a9a95"/>
<circle cx="419.2" cy="246" r="0.9" fill="#9a9a95"/>
<circle cx="428.4" cy="246" r="0.9" fill="#9a9a95"/>
<circle cx="437.6" cy="246" r="0.9" fill="#9a9a95"/>
<circle cx="446.8" cy="246" r="0.9" fill="#9a9a95"/>
<circle cx="456" cy="246" r="0.9" fill="#9a9a95"/>
<circle cx="465.2" cy="246" r="0.9" fill="#9a9a95"/>
<circle cx="474.4" cy="246" r="0.9" fill="#9a9a95"/>
<circle cx="483.6" cy="246" r="0.9" fill="#9a9a95"/>
<circle cx="492.8" cy="246" r="0.9" fill="#9a9a95"/>
<circle cx="502" cy="246" r="0.9" fill="#9a9a95"/>
<circle cx="511.2" cy="246" r="0.9" fill="#9a9a95"/>
<circle cx="520.4" cy="246" r="0.9" fill="#9a9a95"/>
<circle cx="529.6" cy="246" r="0.9" fill="#9a9a95"/>
<circle cx="410" cy="254" r="0.9" fill="#9a9a95"/>
<circle cx="419.2" cy="254" r="0.9" fill="#9a9a95"/>
<circle cx="428.4" cy="254" r="0.9" fill="#9a9a95"/>
<circle cx="437.6" cy="254" r="0.9" fill="#9a9a95"/>
<circle cx="446.8" cy="254" r="0.9" fill="#9a9a95"/>
<circle cx="456" cy="254" r="0.9" fill="#9a9a95"/>
<circle cx="465.2" cy="254" r="0.9" fill="#9a9a95"/>
<circle cx="474.4" cy="254" r="0.9" fill="#9a9a95"/>
<circle cx="483.6" cy="254" r="0.9" fill="#9a9a95"/>
<circle cx="492.8" cy="254" r="0.9" fill="#9a9a95"/>
<circle cx="502" cy="254" r="0.9" fill="#9a9a95"/>
<circle cx="511.2" cy="254" r="0.9" fill="#9a9a95"/>
<circle cx="520.4" cy="254" r="0.9" fill="#9a9a95"/>
<circle cx="529.6" cy="254" r="0.9" fill="#9a9a95"/>
<circle cx="410" cy="301" r="0.9" fill="#9a9a95"/>
<circle cx="419.2" cy="301" r="0.9" fill="#9a9a95"/>
<circle cx="428.4" cy="301" r="0.9" fill="#9a9a95"/>
<circle cx="437.6" cy="301" r="0.9" fill="#9a9a95"/>
<circle cx="446.8" cy="301" r="0.9" fill="#9a9a95"/>
<circle cx="456" cy="301" r="0.9" fill="#9a9a95"/>
<circle cx="465.2" cy="301" r="0.9" fill="#9a9a95"/>
<circle cx="474.4" cy="301" r="0.9" fill="#9a9a95"/>
<circle cx="483.6" cy="301" r="0.9" fill="#9a9a95"/>
<circle cx="492.8" cy="301" r="0.9" fill="#9a9a95"/>
<circle cx="502" cy="301" r="0.9" fill="#9a9a95"/>
<circle cx="511.2" cy="301" r="0.9" fill="#9a9a95"/>
<circle cx="520.4" cy="301" r="0.9" fill="#9a9a95"/>
<circle cx="529.6" cy="301" r="0.9" fill="#9a9a95"/>
<circle cx="410" cy="309" r="0.9" fill="#9a9a95"/>
<circle cx="419.2" cy="309" r="0.9" fill="#9a9a95"/>
<circle cx="428.4" cy="309" r="0.9" fill="#9a9a95"/>
<circle cx="437.6" cy="309" r="0.9" fill="#9a9a95"/>
<circle cx="446.8" cy="309" r="0.9" fill="#9a9a95"/>
<circle cx="456" cy="309" r="0.9" fill="#9a9a95"/>
<circle cx="465.2" cy="309" r="0.9" fill="#9a9a95"/>
<circle cx="474.4" cy="309" r="0.9" fill="#9a9a95"/>
<circle cx="483.6" cy="309" r="0.9" fill="#9a9a95"/>
<circle cx="492.8" cy="309" r="0.9" fill="#9a9a95"/>
<circle cx="502" cy="309" r="0.9" fill="#9a9a95"/>
<circle cx="511.2" cy="309" r="0.9" fill="#9a9a95"/>
<circle cx="520.4" cy="309" r="0.9" fill="#9a9a95"/>
<circle cx="529.6" cy="309" r="0.9" fill="#9a9a95"/>
<rect x="665.5" y="226.5" width="96.5" height="95.5" fill="#0b0b0b"/>
<rect x="670" y="231" width="87" height="86" fill="#121212"/>
<path d="M673,243 L673,232 L694,232 L694,243" fill="#151515" stroke="#3c3c3c" stroke-width="1.2"/>
<path d="M758,243 L758,232 L738,232 L738,243" fill="#151515" stroke="#3c3c3c" stroke-width="1.2"/>
<rect x="694" y="232" width="44" height="9" fill="#080808"/>
<line x1="670" y1="284" x2="757" y2="284" stroke="#2a2a2a" stroke-width="1"/>
<rect x="672" y="296" width="21" height="24" fill="#3b3b3b"/>
<rect x="742" y="296" width="3" height="24" fill="#2e2e2e"/>
<circle cx="692.5" cy="251.8" r="1.2" fill="#f2f2f2"/>
<circle cx="692.8" cy="275.8" r="1.2" fill="#f2f2f2"/>
<circle cx="701.8" cy="251.8" r="1.2" fill="#f2f2f2"/>
<circle cx="702.1" cy="275.8" r="1.2" fill="#f2f2f2"/>
<circle cx="711.1" cy="251.8" r="1.2" fill="#f2f2f2"/>
<circle cx="711.4" cy="275.8" r="1.2" fill="#f2f2f2"/>
<circle cx="720.4" cy="251.8" r="1.2" fill="#f2f2f2"/>
<circle cx="720.7" cy="275.8" r="1.2" fill="#f2f2f2"/>
<circle cx="729.7" cy="251.8" r="1.2" fill="#f2f2f2"/>
<circle cx="730" cy="275.8" r="1.2" fill="#f2f2f2"/>
<circle cx="739" cy="251.8" r="1.2" fill="#f2f2f2"/>
<circle cx="739.3" cy="275.8" r="1.2" fill="#f2f2f2"/>
<circle cx="748.3" cy="251.8" r="1.2" fill="#f2f2f2"/>
<circle cx="748.6" cy="275.8" r="1.2" fill="#f2f2f2"/>
<circle cx="681.5" cy="254.5" r="2" fill="#e6e6e6"/><circle cx="681.5" cy="272.5" r="2.4" fill="#e6e6e6"/><circle cx="674" cy="254" r="1" fill="#bbb"/>
<rect x="699" y="298" width="41" height="13" rx="5" fill="#14275e"/><rect x="702" y="300" width="35" height="9" rx="4" fill="#2a4aa0" opacity="0.7"/><rect x="706" y="302.5" width="6" height="3.5" rx="1" fill="#f4f4f4"/><rect x="729" y="302.5" width="6" height="3.5" rx="1" fill="#f4f4f4"/>
<text x="222" y="343.5" font-family="Liberation Sans" font-size="20" fill="none" stroke="#b4e0f8" stroke-width="0.6" textLength="54" lengthAdjust="spacingAndGlyphs">RADIO</text>
<text x="323" y="343.5" font-family="Liberation Sans" font-size="20" fill="none" stroke="#b4e0f8" stroke-width="0.6" textLength="45" lengthAdjust="spacingAndGlyphs">HDMI</text>
<text x="398" y="343.5" font-family="Liberation Sans" font-size="20" fill="none" stroke="#b4e0f8" stroke-width="0.6" textLength="41" lengthAdjust="spacingAndGlyphs">INPUT</text>
<text x="480" y="343.5" font-family="Liberation Sans" font-size="20" fill="none" stroke="#b4e0f8" stroke-width="0.6" textLength="57" lengthAdjust="spacingAndGlyphs">OUTPUT</text>
<text x="688" y="343.5" font-family="Liberation Sans" font-size="20" fill="none" stroke="#b4e0f8" stroke-width="0.6" textLength="56" lengthAdjust="spacingAndGlyphs">POWER</text>
<text x="341" y="282.5" font-family="Liberation Sans" font-size="18" fill="none" stroke="#b4e0f8" stroke-width="0.6" textLength="32" lengthAdjust="spacingAndGlyphs">GPS</text>
<line x1="351.5" y1="66" x2="351.5" y2="244" stroke="#d9782a" stroke-width="1.8"/>
<circle cx="351.5" cy="65.6" r="3.8" fill="#d9782a"/>
<line x1="440.8" y1="48" x2="440.8" y2="261" stroke="#d9782a" stroke-width="1.8"/>
<circle cx="441" cy="47.7" r="3.8" fill="#d9782a"/>
<line x1="344.2" y1="311" x2="344.2" y2="491" stroke="#d9782a" stroke-width="1.8"/>
<circle cx="344.2" cy="490.8" r="3.8" fill="#d9782a"/>
<line x1="442.6" y1="306" x2="442.6" y2="485" stroke="#d9782a" stroke-width="1.8"/>
<circle cx="442.2" cy="485" r="3.8" fill="#d9782a"/>
<line x1="478.4" y1="306" x2="478.4" y2="485" stroke="#d9782a" stroke-width="1.8"/>
<circle cx="478" cy="485" r="3.8" fill="#d9782a"/>
<line x1="516.5" y1="306" x2="516.5" y2="521" stroke="#d9782a" stroke-width="1.8"/>
<circle cx="516.3" cy="520.7" r="3.8" fill="#d9782a"/>
<line x1="719.5" y1="272" x2="719.5" y2="484" stroke="#d9782a" stroke-width="1.8"/>
<circle cx="718.8" cy="484" r="3.8" fill="#d9782a"/>
<text x="352.5" y="59.6" font-family="Liberation Sans" font-size="16" fill="#1e1e1e" text-anchor="middle">GPS</text>
<text x="446" y="25" font-family="Liberation Sans" font-size="16" fill="#1e1e1e" text-anchor="middle">RCA Output</text>
<text x="446" y="42" font-family="Liberation Sans" font-size="16" fill="#1e1e1e" text-anchor="middle">Socket A</text>
<text x="338.6" y="511.6" font-family="Liberation Sans" font-size="16" fill="#1e1e1e" text-anchor="middle">HDMI</text>
<text x="436.3" y="505.6" font-family="Liberation Sans" font-size="16" fill="#1e1e1e" text-anchor="middle">USB</text>
<text x="480.3" y="505.6" font-family="Liberation Sans" font-size="16" fill="#1e1e1e" text-anchor="middle">USB</text>
<text x="515" y="539" font-family="Liberation Sans" font-size="16" fill="#1e1e1e" text-anchor="middle">RCA Output</text>
<text x="514.8" y="556" font-family="Liberation Sans" font-size="16" fill="#1e1e1e" text-anchor="middle">Socket B</text>
<text x="719.6" y="507.8" font-family="Liberation Sans" font-size="16" fill="#1e1e1e" text-anchor="middle">Power Socket</text>
</svg>
<div class="card" style="left:191px;top:604px;width:150px;height:180px"></div><div class="card" style="left:351px;top:604px;width:150px;height:180px"></div><div class="card" style="left:511px;top:604px;width:150px;height:180px"></div><div class="card" style="left:671px;top:604px;width:150px;height:180px"></div><div class="card" style="left:191px;top:799px;width:150px;height:180px"></div><div class="card" style="left:351px;top:799px;width:150px;height:180px"></div><div class="card" style="left:511px;top:799px;width:150px;height:180px"></div>
<svg width="1000" height="1000" viewBox="0 0 1000 1000" style="z-index:2">
<text x="265" y="768.0" font-family="Liberation Sans" font-size="12.5" fill="#1a1a1a" stroke="#1a1a1a" stroke-width="0.1" text-anchor="middle">Power Socket</text>
<text x="426.5" y="762.9" font-family="Liberation Sans" font-size="12.5" fill="#1a1a1a" stroke="#1a1a1a" stroke-width="0.1" text-anchor="middle">RCA Output</text>
<text x="426.2" y="775.4" font-family="Liberation Sans" font-size="12.5" fill="#1a1a1a" stroke="#1a1a1a" stroke-width="0.1" text-anchor="middle">Socket A</text>
<text x="585" y="762.6" font-family="Liberation Sans" font-size="12.5" fill="#1a1a1a" stroke="#1a1a1a" stroke-width="0.1" text-anchor="middle">RCA Output</text>
<text x="584.5" y="775.6" font-family="Liberation Sans" font-size="12.5" fill="#1a1a1a" stroke="#1a1a1a" stroke-width="0.1" text-anchor="middle">Socket B</text>
<text x="746" y="768.2" font-family="Liberation Sans" font-size="12.5" fill="#1a1a1a" stroke="#1a1a1a" stroke-width="0.1" text-anchor="middle">GPS Antenna</text>
<text x="265.3" y="964.6" font-family="Liberation Sans" font-size="12.5" fill="#1a1a1a" stroke="#1a1a1a" stroke-width="0.1" text-anchor="middle">USB Cable</text>
<text x="426.7" y="962.9" font-family="Liberation Sans" font-size="12.5" fill="#1a1a1a" stroke="#1a1a1a" stroke-width="0.1" text-anchor="middle">Instructions</text>
<text x="585.5" y="963.6" font-family="Liberation Sans" font-size="12.5" fill="#1a1a1a" stroke="#1a1a1a" stroke-width="0.1" text-anchor="middle">Rear camera</text>
<g fill="none" stroke-linecap="round">
<path d="M233,652 C240,662 248,680 258,695 C266,708 272,720 277,730" stroke="#e59a70" stroke-width="1"/>
<path d="M264,638 C272,645 280,670 284,700 C286,715 286,725 285,733" stroke="#1a1a1a" stroke-width="1.1"/>
<path d="M249,644 C246,668 254,692 266,710 C273,721 277,729 279,736" stroke="#2b3fa0" stroke-width="1.5"/>
<path d="M251,644 C250,668 258,692 270,710 C276,721 279,729 281,736" stroke="#c8c8d8" stroke-width="1.2"/>
<path d="M253,644 C254,670 264,694 273,712 C278,722 280,730 282,736" stroke="#111" stroke-width="2"/>
<path d="M256,644 C258,670 268,692 276,710 C280,720 282,730 283,736" stroke="#222" stroke-width="1.6"/>
<path d="M258,644 C262,668 274,690 279,708 C282,720 284,728 284,736" stroke="#f0bf3a" stroke-width="2.2"/>
<path d="M261,644 C266,666 278,688 282,706 C285,718 286,728 286,736" stroke="#f4d77e" stroke-width="2"/>
<path d="M262,644 C264,652 268,650 266,660" stroke="#c0392b" stroke-width="1.2"/>
</g>
<rect x="243.5" y="621" width="20.5" height="10" fill="#1b1b1b"/><rect x="246" y="623" width="16" height="5" fill="#d8d8d8"/><rect x="248" y="624.5" width="12" height="0.8" fill="#777"/><rect x="248" y="626.5" width="12" height="0.8" fill="#777"/>
<rect x="245" y="631" width="19" height="4" fill="#181818"/><rect x="247" y="635" width="16" height="9" fill="#141414"/>
<path d="M237,662 l4,-2 l4,6 l-4,2 Z" fill="#bbb"/><path d="M263,648 l6,-1 l1,5 l-6,1 Z" fill="#ddd"/>
<g transform="rotate(-22 284 739)"><rect x="277" y="731" width="13" height="16" fill="#2b2b2b" stroke="#555" stroke-width="0.8"/></g>
<rect x="419" y="613" width="12.5" height="6" fill="#eceae4" stroke="#bbb" stroke-width="0.6"/>
<path d="M425,619 L427,628" stroke="#2a2a2a" stroke-width="4" fill="none"/>
<path d="M427,628 L428,650" stroke="#111" stroke-width="4.5" fill="none"/>
<rect x="424" y="637" width="8" height="2" fill="#ccc"/>
<g fill="none" stroke-width="1.8">
<path d="M428,650 Q407.2,672 396,708" stroke="#111"/>
<path d="M428,650 Q410.5,672 401,713" stroke="#111"/>
<path d="M428,650 Q415.0,672 408,718" stroke="#111"/>
<path d="M428,650 Q423.5,672 421,714" stroke="#ccc"/>
<path d="M428,650 Q431.9,672 434,718" stroke="#111"/>
<path d="M428,650 Q439.0,672 445,718" stroke="#111"/>
<path d="M428,650 Q443.6,672 452,714" stroke="#111"/>
<path d="M428,650 Q449.5,672 461,712" stroke="#111"/>
<path d="M428,650 Q445.5,672 455,690" stroke="#111"/>
</g>
<line x1="393" y1="712" x2="378" y2="723" stroke="#e9e9e9" stroke-width="7.5" stroke-linecap="round"/>
<line x1="378" y1="723" x2="374.8" y2="725.4" stroke="#bdbdbd" stroke-width="5"/>
<line x1="399" y1="719" x2="386" y2="731" stroke="#d8171f" stroke-width="7.5" stroke-linecap="round"/>
<line x1="386" y1="731" x2="383.1" y2="733.7" stroke="#bdbdbd" stroke-width="5"/>
<line x1="406" y1="721" x2="402" y2="739" stroke="#f3d21b" stroke-width="7.5" stroke-linecap="round"/>
<line x1="402" y1="739" x2="401.1" y2="742.9" stroke="#bdbdbd" stroke-width="5"/>
<line x1="420" y1="720" x2="416" y2="739" stroke="#e6e6e6" stroke-width="7.5" stroke-linecap="round"/>
<line x1="416" y1="739" x2="415.2" y2="742.9" stroke="#bdbdbd" stroke-width="5"/>
<line x1="434" y1="721" x2="434" y2="740" stroke="#d8171f" stroke-width="7.5" stroke-linecap="round"/>
<line x1="434" y1="740" x2="434.0" y2="744.0" stroke="#bdbdbd" stroke-width="5"/>
<line x1="445" y1="721" x2="445" y2="740" stroke="#f3d21b" stroke-width="7.5" stroke-linecap="round"/>
<line x1="445" y1="740" x2="445.0" y2="744.0" stroke="#bdbdbd" stroke-width="5"/>
<line x1="453" y1="718" x2="461" y2="737" stroke="#f3d21b" stroke-width="7.5" stroke-linecap="round"/>
<line x1="461" y1="737" x2="462.6" y2="740.7" stroke="#bdbdbd" stroke-width="5"/>
<line x1="461" y1="715" x2="474" y2="731" stroke="#2445b8" stroke-width="7.5" stroke-linecap="round"/>
<line x1="474" y1="731" x2="476.5" y2="734.1" stroke="#bdbdbd" stroke-width="5"/>
<line x1="448" y1="677" x2="460" y2="696" stroke="#161616" stroke-width="5.5" stroke-linecap="round"/>
<rect x="403" y="700" width="6" height="5" fill="#ddd"/><rect x="413" y="707" width="6" height="5" fill="#ddd"/><rect x="426" y="700" width="6" height="5" fill="#ddd"/><rect x="436" y="706" width="6" height="5" fill="#ddd"/><rect x="445" y="702" width="6" height="5" fill="#ddd"/>
<rect x="567" y="617" width="7" height="8" fill="#ece6e0" stroke="#c8b8b0" stroke-width="0.6"/>
<g fill="none" stroke-linecap="round">
<path d="M573,625 C582,650 590,680 587,722" stroke="#d89a8a" stroke-width="1"/>
<path d="M571,626 C576,645 577,670 575,690 C574,700 573,708 574,712" stroke="#151515" stroke-width="2.2"/>
<path d="M575,660 C578,690 582,705 584,722" stroke="#c4c4c4" stroke-width="1.3"/>
</g>
<path d="M570.5,712 Q569,720 572,728 L573,740 L579.5,740 L580.5,728 Q583,720 581,712 Z" fill="#f2d21a"/><path d="M572,713 L573.5,713 L574,738 L573,738 Z" fill="#fff3a0" opacity="0.7"/>
<rect x="573" y="740" width="6" height="5" fill="#b8b8b8"/>
<rect x="564" y="689" width="9" height="6" fill="#d8d8d8"/><rect x="591" y="680" width="9" height="7" fill="#e0e0e0"/>
<path d="M584,722 l-1,7 M587,722 l1,7" stroke="#222" stroke-width="1.2"/>
<path fill-rule="evenodd" fill="#161616" d="M732.5,677 A29,23.5 0 1,0 790.5,677 A29,23.5 0 1,0 732.5,677 Z M741,679 A19.5,12 0 1,0 780,679 A19.5,12 0 1,0 741,679 Z" transform="rotate(-6 761 677)"/>
<g fill="none" stroke="#2e2e2e" stroke-width="0.8"><ellipse cx="761" cy="678" rx="25" ry="18" transform="rotate(-6 761 677)"/><ellipse cx="761" cy="678" rx="22" ry="15" transform="rotate(-6 761 677)"/></g>
<g fill="none" stroke="#111" stroke-linecap="round">
<path d="M736,668 C735,660 735,652 737,648 C740,646 745,652 752,656" stroke-width="1.4"/>
<path d="M765,700 C758,705 752,708 746,709" stroke-width="1.6"/>
<path d="M780,696 l3,6 M784,694 l2,5" stroke-width="1"/>
</g>
<g transform="rotate(-14 714 678)"><rect x="696" y="663" width="37" height="31" rx="9" fill="#202020"/><rect x="698" y="664" width="33" height="12" rx="6" fill="#303030"/></g>
<rect x="742" y="706.5" width="6.5" height="12" fill="#d9b560"/><rect x="742" y="710" width="6.5" height="2" fill="#b08a3a"/>
<g fill="none" stroke="#141414" stroke-linecap="round">
<path d="M239,829 C228,836 228,860 244,880" stroke-width="2.7"/>
<path d="M247,829 C261,836 260,862 246,880" stroke-width="2.7"/>
<path d="M227,838 C233,846 238,862 244,880" stroke-width="1.6"/>
<path d="M243,850 L244,880" stroke-width="3"/>
<path d="M244,880 C231,900 233,934 241,940 C249,945 259,935 261,920 C263,904 253,890 246,880" stroke-width="2.8"/>
<path d="M245,881 C238,902 239,930 245,937 C252,942 262,930 262,914 C262,900 254,889 246,881" stroke-width="2.1"/>
<path d="M244,881 C235,905 236,929 243,935 C250,939 256,926 256,910" stroke-width="1.9"/>
</g>
<path d="M237.5,823 L248.5,823 L248,837 L245,852 L241,852 L238,837 Z" fill="#1a1a1a"/>
<rect x="221" y="833.5" width="6" height="7" fill="#eeeeee" stroke="#b5b5b5" stroke-width="0.6"/>
<rect x="243" y="859" width="8" height="7" fill="#e2e2e2"/>
<ellipse cx="245" cy="880" rx="3.5" ry="2.5" fill="#111"/>
<g fill="none" stroke="#141414" stroke-linecap="round">
<path d="M281,829 C270,836 270,860 286,880" stroke-width="2.7"/>
<path d="M289,829 C303,836 302,862 288,880" stroke-width="2.7"/>
<path d="M269,838 C275,846 280,862 286,880" stroke-width="1.6"/>
<path d="M285,850 L286,880" stroke-width="3"/>
<path d="M286,880 C273,900 275,934 283,940 C291,945 301,935 303,920 C305,904 295,890 288,880" stroke-width="2.8"/>
<path d="M287,881 C280,902 281,930 287,937 C294,942 304,930 304,914 C304,900 296,889 288,881" stroke-width="2.1"/>
<path d="M286,881 C277,905 278,929 285,935 C292,939 298,926 298,910" stroke-width="1.9"/>
</g>
<path d="M279.5,823 L290.5,823 L290,837 L287,852 L283,852 L280,837 Z" fill="#1a1a1a"/>
<rect x="263" y="833.5" width="6" height="7" fill="#eeeeee" stroke="#b5b5b5" stroke-width="0.6"/>
<rect x="285" y="859" width="8" height="7" fill="#e2e2e2"/>
<ellipse cx="287" cy="880" rx="3.5" ry="2.5" fill="#111"/>
<rect x="392" y="824" width="71" height="106" fill="#d9d9d9"/>
<rect x="391" y="823" width="71" height="105" fill="#efefef"/>
<text x="425.5" y="855" font-family="Liberation Sans" font-size="7.5" fill="#333" stroke="#333" stroke-width="0.15" text-anchor="middle">Owner's Manual</text>
<text x="426" y="861.5" font-family="Liberation Sans" font-size="3.4" fill="#666" text-anchor="middle">Android DVD Player</text>
<text x="449" y="921" font-family="Liberation Sans" font-size="3.5" fill="#444" text-anchor="middle">VS-1</text>
<path d="M537,844 C537,840 540,839 547,839 L557,839 C562,839 564,843 568,846.5 L604,846.5 C608,843 610,839 616,839 L626,839 C632,839 634,841 634,845 C634,849 631,850.5 626,850.5 L546,850.5 C540,850.5 537,848 537,844 Z" fill="#1f1f1f"/>
<ellipse cx="549" cy="844" rx="5" ry="2" fill="#fff"/><ellipse cx="621" cy="844" rx="5" ry="2" fill="#fff"/>
<rect x="578.5" y="850" width="13" height="18" fill="#262626"/>
<ellipse cx="586.5" cy="888" rx="23" ry="25" fill="#171717"/>
<path d="M566,880 C568,866 578,862 587,862 C597,862 606,868 608,880" fill="none" stroke="#3a3a3a" stroke-width="2"/>
<circle cx="585.5" cy="890" r="16.5" fill="#0b0b0b"/>
<circle cx="585.5" cy="890" r="12" fill="#22182e"/>
<path d="M576,884 C578,878 584,877 588,880 L584,887 Z" fill="#e8a0c8"/>
<circle cx="579" cy="885" r="2.5" fill="#ffffff" opacity="0.9"/>
<circle cx="586" cy="891" r="3.5" fill="#8a40e0"/>
<path d="M586,898 C591,898 594,895 595,891" fill="none" stroke="#5a4ad0" stroke-width="2"/>
</svg>
</body></html>
